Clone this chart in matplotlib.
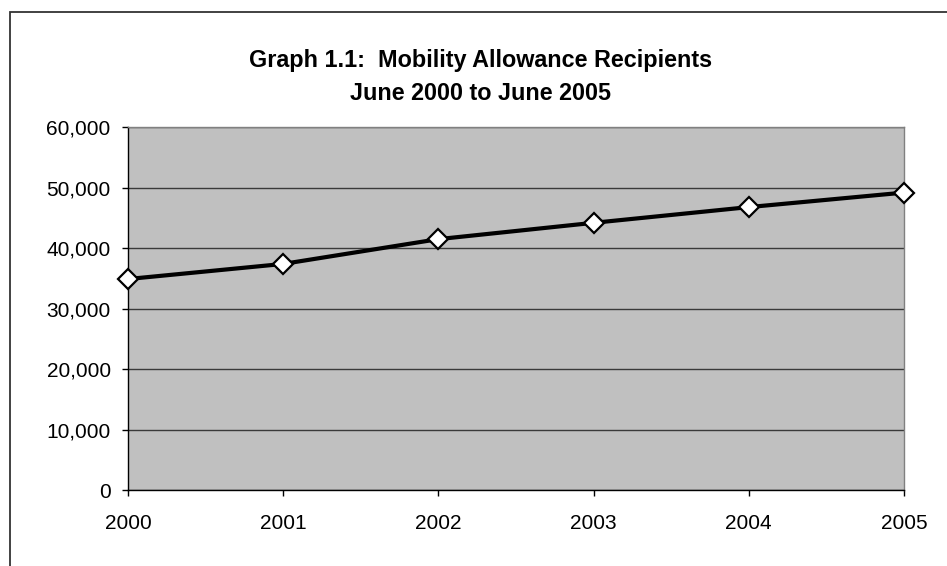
import matplotlib
matplotlib.use("Agg")
import matplotlib.pyplot as plt
from matplotlib.patches import Rectangle
from matplotlib.ticker import FuncFormatter

years = [2000, 2001, 2002, 2003, 2004, 2005]
recipients = [34900, 37400, 41500, 44200, 46800, 49200]
y_ticks = [0, 10000, 20000, 30000, 40000, 50000, 60000]
title_lines = ["Graph 1.1:  Mobility Allowance Recipients", "June 2000 to June 2005"]

W, H = 947, 566
plt.rcParams['font.family'] = ['Liberation Sans', 'DejaVu Sans']
fig = plt.figure(figsize=(W / 100, H / 100), dpi=100)
fig.patch.set_facecolor('white')

# chart area border
fig.patches.append(Rectangle((10 / W, 0 - 0.2), 2.0, 1 - 12 / H + 0.2, transform=fig.transFigure,
                             fill=False, edgecolor='#333333', linewidth=1.3))

ax = fig.add_axes([128 / W, 1 - 490 / H, (904 - 128) / W, (490 - 127.3) / H])
ax.set_facecolor('#C0C0C0')
ax.set_xlim(years[0], years[-1])
ax.set_ylim(y_ticks[0], y_ticks[-1])
ax.set_yticks(y_ticks)
ax.set_xticks(years)
ax.set_xticklabels([str(y) for y in years])
ax.yaxis.set_major_formatter(FuncFormatter(lambda v, p: f"{int(v):,}"))
ax.grid(axis='y', color='#3a3a3a', linewidth=1.0)
ax.set_axisbelow(True)

for s in ['top', 'right']:
    ax.spines[s].set_color('#808080')
    ax.spines[s].set_linewidth(1.0)
for s in ['left', 'bottom']:
    ax.spines[s].set_color('black')
    ax.spines[s].set_linewidth(1.0)

ax.tick_params(axis='both', direction='out', length=4.5, width=1, colors='black', labelsize=15)
ax.tick_params(axis='y', pad=8)
ax.tick_params(axis='x', pad=12.5)

ax.plot(years, recipients, color='black', linewidth=3, marker='D', markersize=10.5,
        markerfacecolor='white', markeredgecolor='black', markeredgewidth=1.6,
        clip_on=False, zorder=5)

fig.text(481 / W, 1 - 60 / H, title_lines[0], ha='center', va='center', fontsize=16.8, fontweight='bold')
fig.text(481 / W, 1 - 93 / H, title_lines[1], ha='center', va='center', fontsize=16.8, fontweight='bold')

fig.savefig('out.png', dpi=100, facecolor='white')
